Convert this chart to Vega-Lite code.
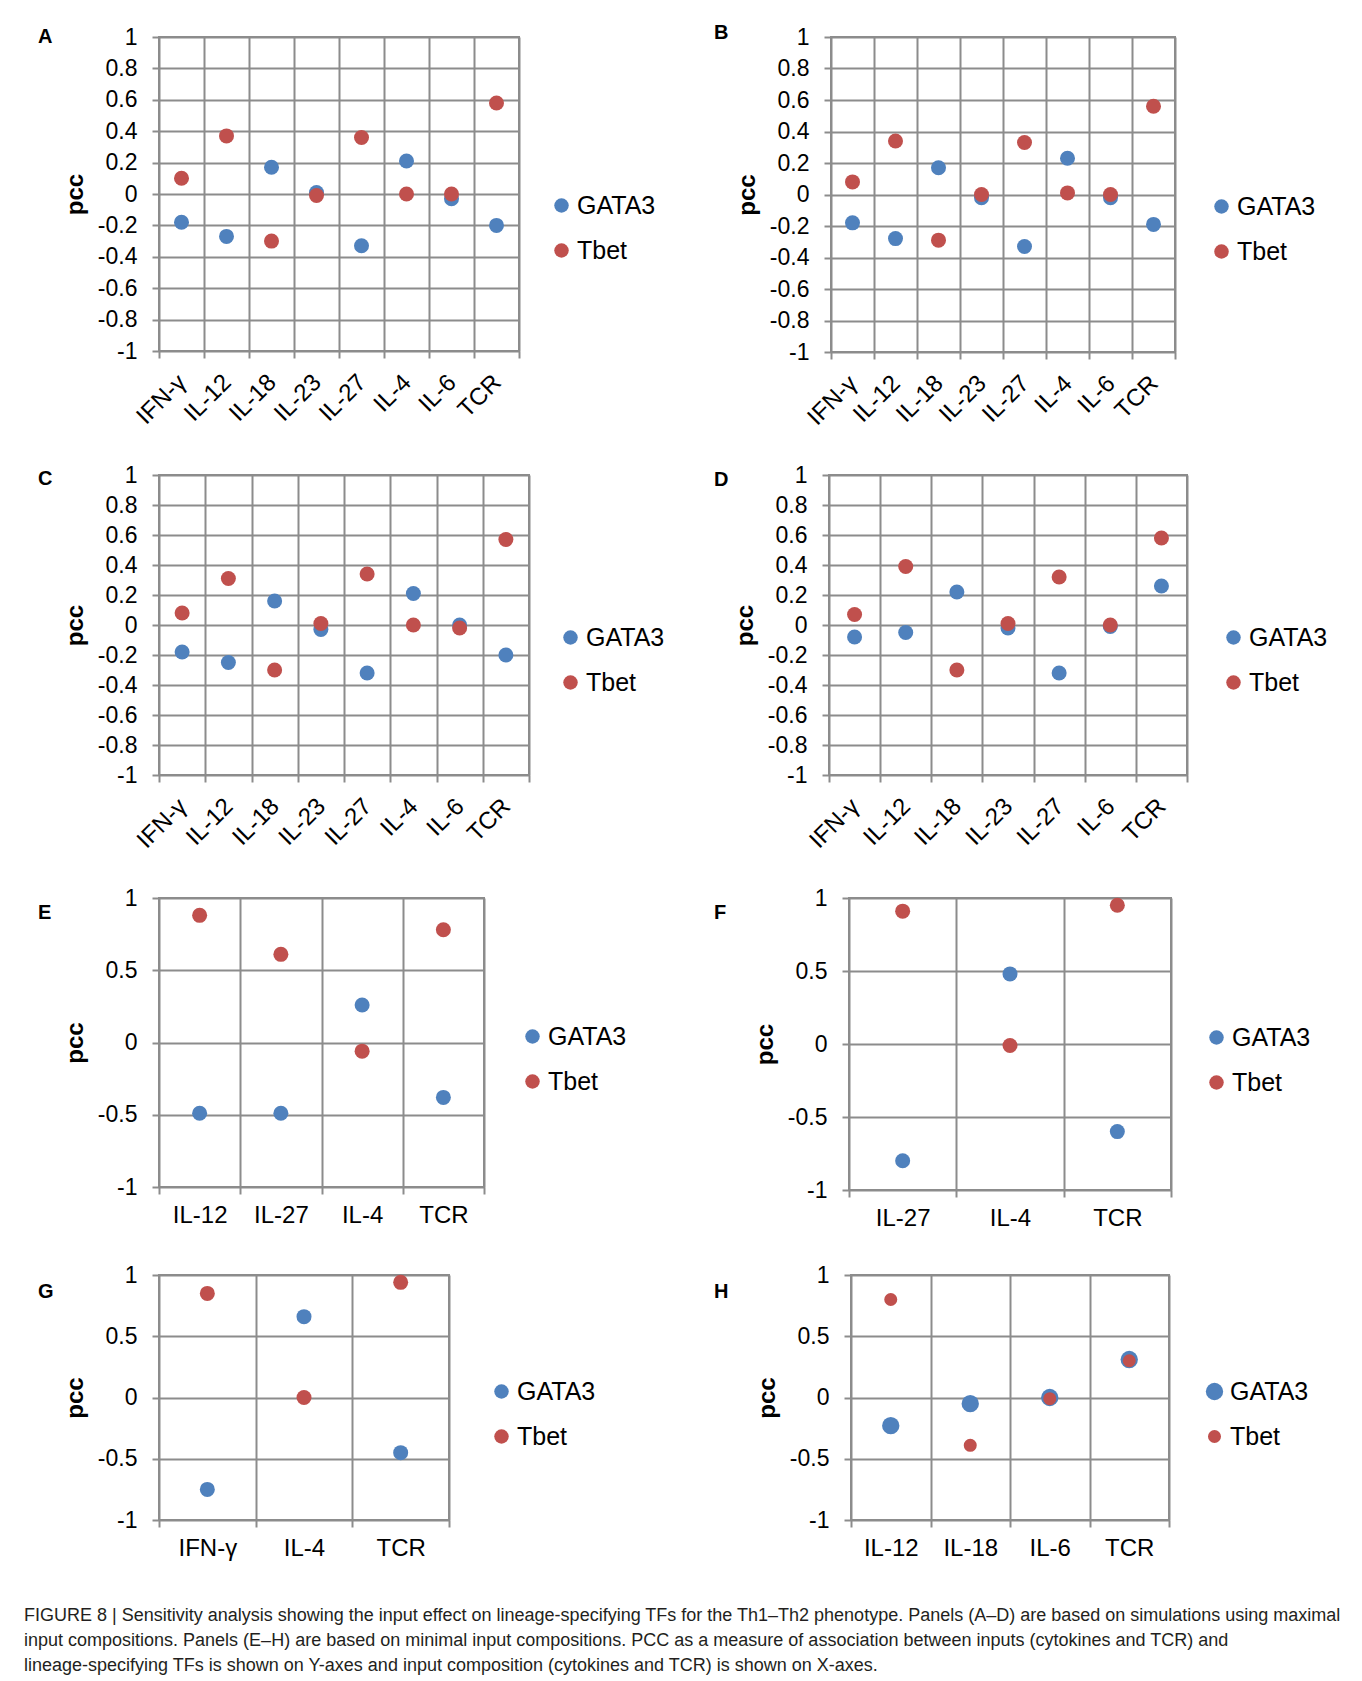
{
  "$schema": "https://vega.github.io/schema/vega-lite/v6.json",
  "background": "white",
  "padding": {"left": 24, "top": 22, "right": 5, "bottom": 5},
  "datasets": {
    "pcc": [
      {"panel": "A", "input": "IFN-γ", "tf": "GATA3", "pcc": -0.18},
      {"panel": "A", "input": "IL-12", "tf": "GATA3", "pcc": -0.27},
      {"panel": "A", "input": "IL-18", "tf": "GATA3", "pcc": 0.17},
      {"panel": "A", "input": "IL-23", "tf": "GATA3", "pcc": 0.01},
      {"panel": "A", "input": "IL-27", "tf": "GATA3", "pcc": -0.33},
      {"panel": "A", "input": "IL-4", "tf": "GATA3", "pcc": 0.21},
      {"panel": "A", "input": "IL-6", "tf": "GATA3", "pcc": -0.03},
      {"panel": "A", "input": "TCR", "tf": "GATA3", "pcc": -0.2},
      {"panel": "A", "input": "IFN-γ", "tf": "Tbet", "pcc": 0.1},
      {"panel": "A", "input": "IL-12", "tf": "Tbet", "pcc": 0.37},
      {"panel": "A", "input": "IL-18", "tf": "Tbet", "pcc": -0.3},
      {"panel": "A", "input": "IL-23", "tf": "Tbet", "pcc": -0.01},
      {"panel": "A", "input": "IL-27", "tf": "Tbet", "pcc": 0.36},
      {"panel": "A", "input": "IL-4", "tf": "Tbet", "pcc": 0.0},
      {"panel": "A", "input": "IL-6", "tf": "Tbet", "pcc": 0.0},
      {"panel": "A", "input": "TCR", "tf": "Tbet", "pcc": 0.58},

      {"panel": "B", "input": "IFN-γ", "tf": "GATA3", "pcc": -0.18},
      {"panel": "B", "input": "IL-12", "tf": "GATA3", "pcc": -0.28},
      {"panel": "B", "input": "IL-18", "tf": "GATA3", "pcc": 0.17},
      {"panel": "B", "input": "IL-23", "tf": "GATA3", "pcc": -0.02},
      {"panel": "B", "input": "IL-27", "tf": "GATA3", "pcc": -0.33},
      {"panel": "B", "input": "IL-4", "tf": "GATA3", "pcc": 0.23},
      {"panel": "B", "input": "IL-6", "tf": "GATA3", "pcc": -0.02},
      {"panel": "B", "input": "TCR", "tf": "GATA3", "pcc": -0.19},
      {"panel": "B", "input": "IFN-γ", "tf": "Tbet", "pcc": 0.08},
      {"panel": "B", "input": "IL-12", "tf": "Tbet", "pcc": 0.34},
      {"panel": "B", "input": "IL-18", "tf": "Tbet", "pcc": -0.29},
      {"panel": "B", "input": "IL-23", "tf": "Tbet", "pcc": 0.0},
      {"panel": "B", "input": "IL-27", "tf": "Tbet", "pcc": 0.33},
      {"panel": "B", "input": "IL-4", "tf": "Tbet", "pcc": 0.01},
      {"panel": "B", "input": "IL-6", "tf": "Tbet", "pcc": 0.0},
      {"panel": "B", "input": "TCR", "tf": "Tbet", "pcc": 0.56},

      {"panel": "C", "input": "IFN-γ", "tf": "GATA3", "pcc": -0.18},
      {"panel": "C", "input": "IL-12", "tf": "GATA3", "pcc": -0.25},
      {"panel": "C", "input": "IL-18", "tf": "GATA3", "pcc": 0.16},
      {"panel": "C", "input": "IL-23", "tf": "GATA3", "pcc": -0.03},
      {"panel": "C", "input": "IL-27", "tf": "GATA3", "pcc": -0.32},
      {"panel": "C", "input": "IL-4", "tf": "GATA3", "pcc": 0.21},
      {"panel": "C", "input": "IL-6", "tf": "GATA3", "pcc": 0.0},
      {"panel": "C", "input": "TCR", "tf": "GATA3", "pcc": -0.2},
      {"panel": "C", "input": "IFN-γ", "tf": "Tbet", "pcc": 0.08},
      {"panel": "C", "input": "IL-12", "tf": "Tbet", "pcc": 0.31},
      {"panel": "C", "input": "IL-18", "tf": "Tbet", "pcc": -0.3},
      {"panel": "C", "input": "IL-23", "tf": "Tbet", "pcc": 0.01},
      {"panel": "C", "input": "IL-27", "tf": "Tbet", "pcc": 0.34},
      {"panel": "C", "input": "IL-4", "tf": "Tbet", "pcc": 0.0},
      {"panel": "C", "input": "IL-6", "tf": "Tbet", "pcc": -0.02},
      {"panel": "C", "input": "TCR", "tf": "Tbet", "pcc": 0.57},

      {"panel": "D", "input": "IFN-γ", "tf": "GATA3", "pcc": -0.08},
      {"panel": "D", "input": "IL-12", "tf": "GATA3", "pcc": -0.05},
      {"panel": "D", "input": "IL-18", "tf": "GATA3", "pcc": 0.22},
      {"panel": "D", "input": "IL-23", "tf": "GATA3", "pcc": -0.02},
      {"panel": "D", "input": "IL-27", "tf": "GATA3", "pcc": -0.32},
      {"panel": "D", "input": "IL-6", "tf": "GATA3", "pcc": -0.01},
      {"panel": "D", "input": "TCR", "tf": "GATA3", "pcc": 0.26},
      {"panel": "D", "input": "IFN-γ", "tf": "Tbet", "pcc": 0.07},
      {"panel": "D", "input": "IL-12", "tf": "Tbet", "pcc": 0.39},
      {"panel": "D", "input": "IL-18", "tf": "Tbet", "pcc": -0.3},
      {"panel": "D", "input": "IL-23", "tf": "Tbet", "pcc": 0.01},
      {"panel": "D", "input": "IL-27", "tf": "Tbet", "pcc": 0.32},
      {"panel": "D", "input": "IL-6", "tf": "Tbet", "pcc": 0.0},
      {"panel": "D", "input": "TCR", "tf": "Tbet", "pcc": 0.58},

      {"panel": "E", "input": "IL-12", "tf": "GATA3", "pcc": -0.49},
      {"panel": "E", "input": "IL-27", "tf": "GATA3", "pcc": -0.49},
      {"panel": "E", "input": "IL-4", "tf": "GATA3", "pcc": 0.26},
      {"panel": "E", "input": "TCR", "tf": "GATA3", "pcc": -0.38},
      {"panel": "E", "input": "IL-12", "tf": "Tbet", "pcc": 0.88},
      {"panel": "E", "input": "IL-27", "tf": "Tbet", "pcc": 0.61},
      {"panel": "E", "input": "IL-4", "tf": "Tbet", "pcc": -0.06},
      {"panel": "E", "input": "TCR", "tf": "Tbet", "pcc": 0.78},

      {"panel": "F", "input": "IL-27", "tf": "GATA3", "pcc": -0.8},
      {"panel": "F", "input": "IL-4", "tf": "GATA3", "pcc": 0.48},
      {"panel": "F", "input": "TCR", "tf": "GATA3", "pcc": -0.6},
      {"panel": "F", "input": "IL-27", "tf": "Tbet", "pcc": 0.91},
      {"panel": "F", "input": "IL-4", "tf": "Tbet", "pcc": -0.01},
      {"panel": "F", "input": "TCR", "tf": "Tbet", "pcc": 0.95},

      {"panel": "G", "input": "IFN-γ", "tf": "GATA3", "pcc": -0.75},
      {"panel": "G", "input": "IL-4", "tf": "GATA3", "pcc": 0.66},
      {"panel": "G", "input": "TCR", "tf": "GATA3", "pcc": -0.45},
      {"panel": "G", "input": "IFN-γ", "tf": "Tbet", "pcc": 0.85},
      {"panel": "G", "input": "IL-4", "tf": "Tbet", "pcc": 0.0},
      {"panel": "G", "input": "TCR", "tf": "Tbet", "pcc": 0.94},

      {"panel": "H", "input": "IL-12", "tf": "GATA3", "pcc": -0.23},
      {"panel": "H", "input": "IL-18", "tf": "GATA3", "pcc": -0.05},
      {"panel": "H", "input": "IL-6", "tf": "GATA3", "pcc": 0.0},
      {"panel": "H", "input": "TCR", "tf": "GATA3", "pcc": 0.31},
      {"panel": "H", "input": "IL-12", "tf": "Tbet", "pcc": 0.8},
      {"panel": "H", "input": "IL-18", "tf": "Tbet", "pcc": -0.39},
      {"panel": "H", "input": "IL-6", "tf": "Tbet", "pcc": -0.01},
      {"panel": "H", "input": "TCR", "tf": "Tbet", "pcc": 0.3}
    ]
  },
  "title": {
    "text": [
      "FIGURE 8 | Sensitivity analysis showing the input effect on lineage-specifying TFs for the Th1–Th2 phenotype. Panels (A–D) are based on simulations using maximal",
      "input compositions. Panels (E–H) are based on minimal input compositions. PCC as a measure of association between inputs (cytokines and TCR) and",
      "lineage-specifying TFs is shown on Y-axes and input composition (cytokines and TCR) is shown on X-axes."
    ],
    "orient": "bottom",
    "anchor": "start",
    "frame": "bounds",
    "font": "Liberation Sans",
    "fontSize": 18,
    "fontWeight": "normal",
    "color": "#231f20",
    "lineHeight": 25,
    "offset": 46,
    "dx": -13
  },
  "spacing": 32,
  "resolve": {"scale": {"color": "independent", "size": "independent"}, "legend": {"color": "independent"}},
  "vconcat": [
    {
      "bounds": "flush",
      "spacing": 312,
      "resolve": {"scale": {"color": "independent"}, "legend": {"color": "independent"}},
      "hconcat": [
        {
          "width": 360, "height": 314,
          "title": {"text": "A", "dx": -121, "dy": 25, "fontSize": 20, "fontWeight": "bold"},
          "data": {"name": "pcc"},
          "transform": [{"filter": "datum.panel === 'A'"}],
          "mark": {"type": "circle", "size": 225, "opacity": 1},
          "encoding": {
            "x": {"field": "input", "type": "nominal", "title": null,
              "scale": {"type": "band", "domain": ["IFN-γ", "IL-12", "IL-18", "IL-23", "IL-27", "IL-4", "IL-6", "TCR"], "paddingInner": 0, "paddingOuter": 0},
              "axis": {"labelAngle": -45, "labelAlign": "right", "labelBaseline": "top", "labelPadding": 12, "labelOffset": -8, "labelFontSize": 24}},
            "y": {"field": "pcc", "type": "quantitative", "title": "pcc",
              "scale": {"domain": [-1, 1], "nice": false, "zero": false},
              "axis": {"values": [-1, -0.8, -0.6, -0.4, -0.2, 0, 0.2, 0.4, 0.6, 0.8, 1], "titleFontWeight": "bold", "titleFontSize": 24}},
            "color": {"field": "tf", "type": "nominal",
              "scale": {"domain": ["GATA3", "Tbet"], "range": ["#4F81BD", "#C0504D"]},
              "legend": {"title": null, "orient": "none", "legendX": 390, "legendY": 156}}
          }
        },
        {
          "width": 344, "height": 315,
          "title": {"text": "B", "dx": -117, "dy": 21, "fontSize": 20, "fontWeight": "bold"},
          "data": {"name": "pcc"},
          "transform": [{"filter": "datum.panel === 'B'"}],
          "mark": {"type": "circle", "size": 225, "opacity": 1},
          "encoding": {
            "x": {"field": "input", "type": "nominal", "title": null,
              "scale": {"type": "band", "domain": ["IFN-γ", "IL-12", "IL-18", "IL-23", "IL-27", "IL-4", "IL-6", "TCR"], "paddingInner": 0, "paddingOuter": 0},
              "axis": {"labelAngle": -45, "labelAlign": "right", "labelBaseline": "top", "labelPadding": 12, "labelOffset": -8, "labelFontSize": 24}},
            "y": {"field": "pcc", "type": "quantitative", "title": "pcc",
              "scale": {"domain": [-1, 1], "nice": false, "zero": false},
              "axis": {"values": [-1, -0.8, -0.6, -0.4, -0.2, 0, 0.2, 0.4, 0.6, 0.8, 1], "titleFontWeight": "bold", "titleFontSize": 24}},
            "color": {"field": "tf", "type": "nominal",
              "scale": {"domain": ["GATA3", "Tbet"], "range": ["#4F81BD", "#C0504D"]},
              "legend": {"title": null, "orient": "none", "legendX": 378, "legendY": 157}}
          }
        }
      ]
    },
    {
      "bounds": "flush",
      "spacing": 300,
      "resolve": {"scale": {"color": "independent"}, "legend": {"color": "independent"}},
      "hconcat": [
        {
          "width": 370, "height": 300,
          "title": {"text": "C", "dx": -121, "dy": 29, "fontSize": 20, "fontWeight": "bold"},
          "data": {"name": "pcc"},
          "transform": [{"filter": "datum.panel === 'C'"}],
          "mark": {"type": "circle", "size": 225, "opacity": 1},
          "encoding": {
            "x": {"field": "input", "type": "nominal", "title": null,
              "scale": {"type": "band", "domain": ["IFN-γ", "IL-12", "IL-18", "IL-23", "IL-27", "IL-4", "IL-6", "TCR"], "paddingInner": 0, "paddingOuter": 0},
              "axis": {"labelAngle": -45, "labelAlign": "right", "labelBaseline": "top", "labelPadding": 12, "labelOffset": -8, "labelFontSize": 24}},
            "y": {"field": "pcc", "type": "quantitative", "title": "pcc",
              "scale": {"domain": [-1, 1], "nice": false, "zero": false},
              "axis": {"values": [-1, -0.8, -0.6, -0.4, -0.2, 0, 0.2, 0.4, 0.6, 0.8, 1], "titleFontWeight": "bold", "titleFontSize": 24}},
            "color": {"field": "tf", "type": "nominal",
              "scale": {"domain": ["GATA3", "Tbet"], "range": ["#4F81BD", "#C0504D"]},
              "legend": {"title": null, "orient": "none", "legendX": 399, "legendY": 150}}
          }
        },
        {
          "width": 358, "height": 300,
          "title": {"text": "D", "dx": -115, "dy": 30, "fontSize": 20, "fontWeight": "bold"},
          "data": {"name": "pcc"},
          "transform": [{"filter": "datum.panel === 'D'"}],
          "mark": {"type": "circle", "size": 225, "opacity": 1},
          "encoding": {
            "x": {"field": "input", "type": "nominal", "title": null,
              "scale": {"type": "band", "domain": ["IFN-γ", "IL-12", "IL-18", "IL-23", "IL-27", "IL-6", "TCR"], "paddingInner": 0, "paddingOuter": 0},
              "axis": {"labelAngle": -45, "labelAlign": "right", "labelBaseline": "top", "labelPadding": 12, "labelOffset": -8, "labelFontSize": 24}},
            "y": {"field": "pcc", "type": "quantitative", "title": "pcc",
              "scale": {"domain": [-1, 1], "nice": false, "zero": false},
              "axis": {"values": [-1, -0.8, -0.6, -0.4, -0.2, 0, 0.2, 0.4, 0.6, 0.8, 1], "titleFontWeight": "bold", "titleFontSize": 24}},
            "color": {"field": "tf", "type": "nominal",
              "scale": {"domain": ["GATA3", "Tbet"], "range": ["#4F81BD", "#C0504D"]},
              "legend": {"title": null, "orient": "none", "legendX": 392, "legendY": 150}}
          }
        }
      ]
    },
    {
      "bounds": "flush",
      "spacing": 365,
      "resolve": {"scale": {"color": "independent"}, "legend": {"color": "independent"}},
      "hconcat": [
        {
          "width": 325, "height": 289,
          "title": {"text": "E", "dx": -121, "dy": 40, "fontSize": 20, "fontWeight": "bold"},
          "data": {"name": "pcc"},
          "transform": [{"filter": "datum.panel === 'E'"}],
          "mark": {"type": "circle", "size": 225, "opacity": 1},
          "encoding": {
            "x": {"field": "input", "type": "nominal", "title": null,
              "scale": {"type": "band", "domain": ["IL-12", "IL-27", "IL-4", "TCR"], "paddingInner": 0, "paddingOuter": 0},
              "axis": {"labelAngle": 0, "labelPadding": 9, "labelFontSize": 24}},
            "y": {"field": "pcc", "type": "quantitative", "title": "pcc",
              "scale": {"domain": [-1, 1], "nice": false, "zero": false},
              "axis": {"values": [-1, -0.5, 0, 0.5, 1], "titleFontWeight": "bold", "titleFontSize": 24}},
            "color": {"field": "tf", "type": "nominal",
              "scale": {"domain": ["GATA3", "Tbet"], "range": ["#4F81BD", "#C0504D"]},
              "legend": {"title": null, "orient": "none", "legendX": 361, "legendY": 126}}
          }
        },
        {
          "width": 322, "height": 292,
          "title": {"text": "F", "dx": -135, "dy": 40, "fontSize": 20, "fontWeight": "bold"},
          "data": {"name": "pcc"},
          "transform": [{"filter": "datum.panel === 'F'"}],
          "mark": {"type": "circle", "size": 225, "opacity": 1},
          "encoding": {
            "x": {"field": "input", "type": "nominal", "title": null,
              "scale": {"type": "band", "domain": ["IL-27", "IL-4", "TCR"], "paddingInner": 0, "paddingOuter": 0},
              "axis": {"labelAngle": 0, "labelPadding": 9, "labelFontSize": 24}},
            "y": {"field": "pcc", "type": "quantitative", "title": "pcc",
              "scale": {"domain": [-1, 1], "nice": false, "zero": false},
              "axis": {"values": [-1, -0.5, 0, 0.5, 1], "titleFontWeight": "bold", "titleFontSize": 24}},
            "color": {"field": "tf", "type": "nominal",
              "scale": {"domain": ["GATA3", "Tbet"], "range": ["#4F81BD", "#C0504D"]},
              "legend": {"title": null, "orient": "none", "legendX": 355, "legendY": 127}}
          }
        }
      ]
    },
    {
      "bounds": "flush",
      "spacing": 402,
      "resolve": {"scale": {"color": "independent", "size": "independent"}, "legend": {"color": "independent"}},
      "hconcat": [
        {
          "width": 290, "height": 245,
          "title": {"text": "G", "dx": -121, "dy": 42, "fontSize": 20, "fontWeight": "bold"},
          "data": {"name": "pcc"},
          "transform": [{"filter": "datum.panel === 'G'"}],
          "mark": {"type": "circle", "size": 225, "opacity": 1},
          "encoding": {
            "x": {"field": "input", "type": "nominal", "title": null,
              "scale": {"type": "band", "domain": ["IFN-γ", "IL-4", "TCR"], "paddingInner": 0, "paddingOuter": 0},
              "axis": {"labelAngle": 0, "labelPadding": 9, "labelFontSize": 24}},
            "y": {"field": "pcc", "type": "quantitative", "title": "pcc",
              "scale": {"domain": [-1, 1], "nice": false, "zero": false},
              "axis": {"values": [-1, -0.5, 0, 0.5, 1], "titleFontWeight": "bold", "titleFontSize": 24}},
            "color": {"field": "tf", "type": "nominal",
              "scale": {"domain": ["GATA3", "Tbet"], "range": ["#4F81BD", "#C0504D"]},
              "legend": {"title": null, "orient": "none", "legendX": 330, "legendY": 104}}
          }
        },
        {
          "width": 318, "height": 245,
          "title": {"text": "H", "dx": -137, "dy": 42, "fontSize": 20, "fontWeight": "bold"},
          "data": {"name": "pcc"},
          "transform": [{"filter": "datum.panel === 'H'"}],
          "mark": {"type": "circle", "opacity": 1},
          "encoding": {
            "x": {"field": "input", "type": "nominal", "title": null,
              "scale": {"type": "band", "domain": ["IL-12", "IL-18", "IL-6", "TCR"], "paddingInner": 0, "paddingOuter": 0},
              "axis": {"labelAngle": 0, "labelPadding": 9, "labelFontSize": 24}},
            "y": {"field": "pcc", "type": "quantitative", "title": "pcc",
              "scale": {"domain": [-1, 1], "nice": false, "zero": false},
              "axis": {"values": [-1, -0.5, 0, 0.5, 1], "titleFontWeight": "bold", "titleFontSize": 24}},
            "size": {"field": "tf", "type": "ordinal",
              "scale": {"domain": ["GATA3", "Tbet"], "range": [300, 170]}, "legend": null},
            "color": {"field": "tf", "type": "nominal",
              "scale": {"domain": ["GATA3", "Tbet"], "range": ["#4F81BD", "#C0504D"]},
              "legend": {"title": null, "orient": "none", "legendX": 351, "legendY": 104}}
          }
        }
      ]
    }
  ],
  "config": {
    "font": "Liberation Sans",
    "view": {"stroke": "#8c8c8c", "strokeWidth": 2},
    "axis": {
      "grid": true, "gridColor": "#8c8c8c", "gridWidth": 2,
      "tickColor": "#8c8c8c", "tickWidth": 2, "tickSize": 7,
      "domain": false,
      "labelFont": "Liberation Sans", "labelFontSize": 23, "labelColor": "#000",
      "titleFont": "Liberation Sans", "titleFontSize": 23, "titleFontWeight": "bold", "titleColor": "#000", "titlePadding": 10
    },
    "axisX": {"tickBand": "extent"},
    "axisY": {"labelExpr": "'' + datum.value", "labelPadding": 15},
    "legend": {
      "labelFont": "Liberation Sans", "labelFontSize": 25, "labelColor": "#000",
      "symbolType": "circle", "symbolSize": 210, "symbolStrokeWidth": 0,
      "rowPadding": 19, "labelOffset": 3, "padding": 0
    },
    "title": {"anchor": "start", "frame": "group", "font": "Liberation Sans", "fontSize": 20, "fontWeight": "bold", "color": "#000"}
  }
}
